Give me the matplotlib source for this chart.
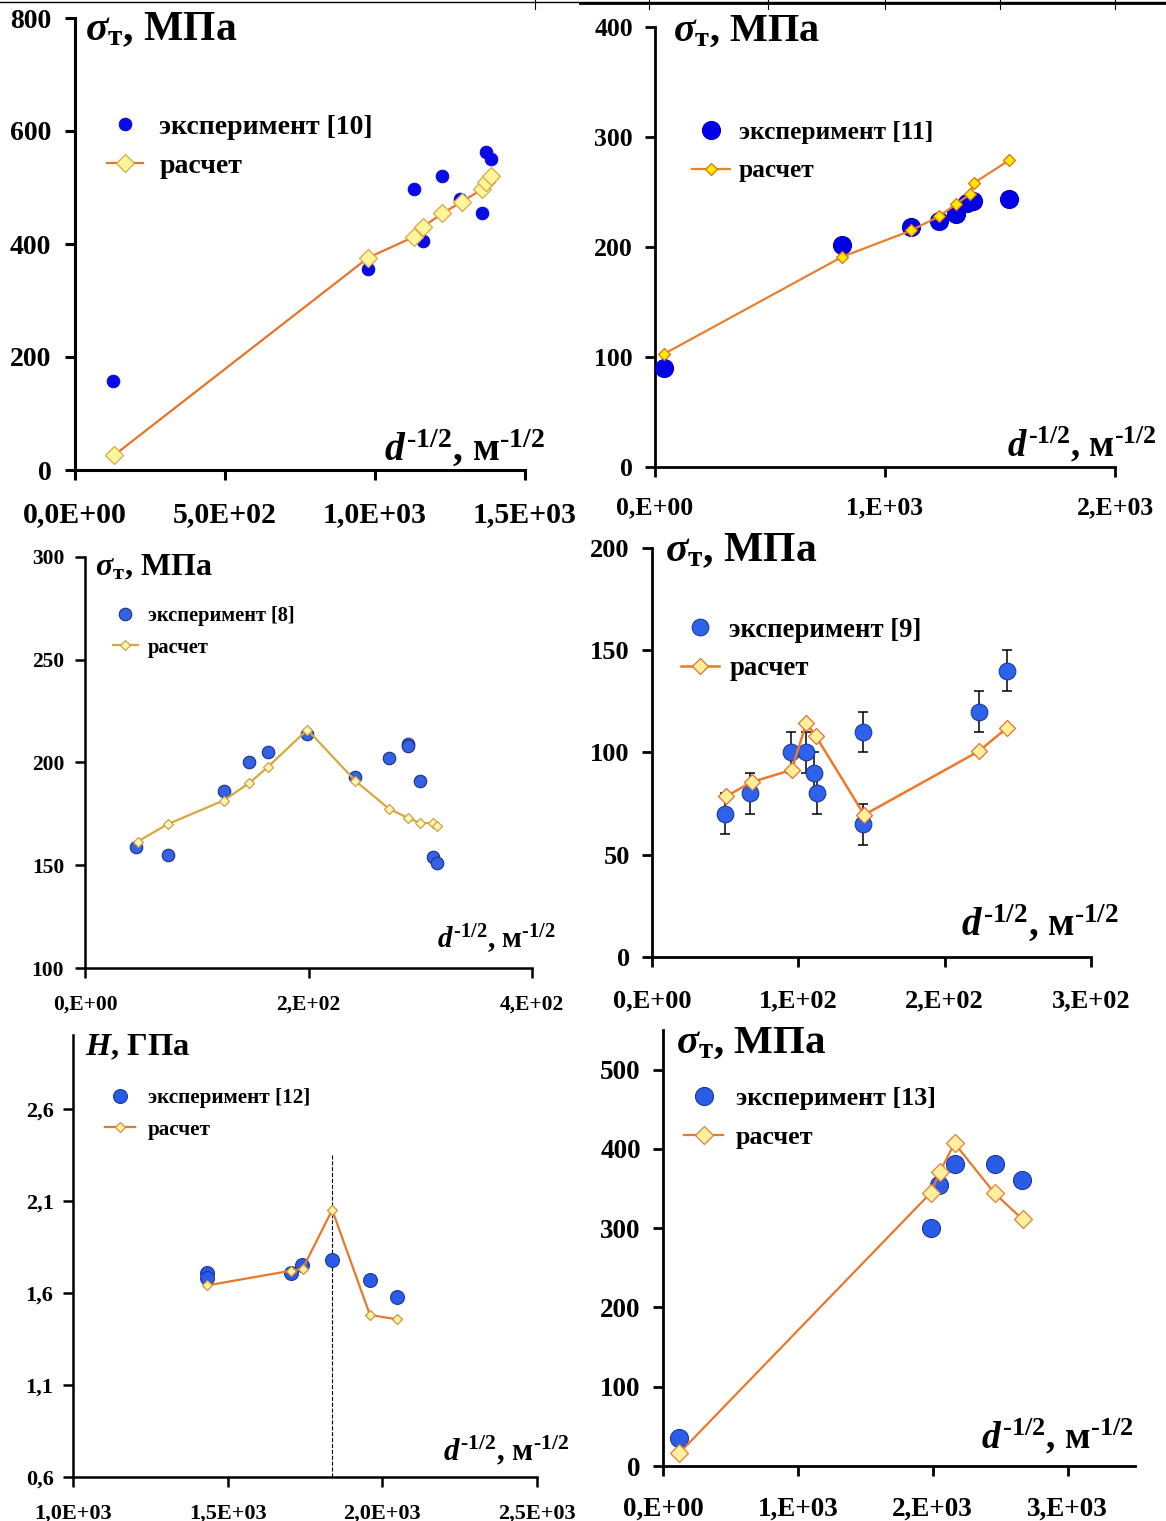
import matplotlib
matplotlib.use("Agg")
import matplotlib.pyplot as plt
from matplotlib.lines import Line2D

plt.rcParams['font.family'] = ['Liberation Serif', 'DejaVu Serif']
plt.rcParams['font.weight'] = 'bold'
plt.rcParams['mathtext.fontset'] = 'custom'
plt.rcParams['mathtext.rm'] = 'Liberation Serif:bold'
plt.rcParams['mathtext.it'] = 'Liberation Serif:italic:bold'
plt.rcParams['mathtext.bf'] = 'Liberation Serif:bold'

W, H = 1166, 1521

# ---- data ----
p1_exp_x = [128, 975, 1131, 1159, 1224, 1282, 1357, 1371, 1386]
p1_exp_y = [157, 356, 498, 406, 520, 479, 454, 562, 551]
p1_calc_x = [130, 978, 1131, 1159, 1224, 1290, 1357, 1371, 1386]
p1_calc_y = [26, 376, 413, 430, 454, 475, 497, 509, 521]
p1_xticks = [0, 500, 1000, 1500]
p1_xlabels = ['0,0E+00', '5,0E+02', '1,0E+03', '1,5E+03']
p1_yticks = [0, 200, 400, 600, 800]

p2_exp_x = [37, 813, 1114, 1236, 1309, 1358, 1382, 1541]
p2_exp_y = [90, 202, 218, 224, 230, 240, 242, 244]
p2_calc_x = [41, 813, 1114, 1236, 1309, 1369, 1385, 1541]
p2_calc_y = [103, 191, 215, 228, 239, 248, 258, 279]
p2_xticks = [0, 1000, 2000]
p2_xlabels = ['0,E+00', '1,E+03', '2,E+03']
p2_yticks = [0, 100, 200, 300, 400]

p3_exp_x = [46, 74, 124, 147, 164, 199, 242, 272, 289, 289, 300, 311, 315]
p3_exp_y = [159, 155, 186, 200, 205, 214, 193, 202, 209, 208, 191, 154, 151]
p3_calc_x = [47, 74, 124, 147, 164, 199, 242, 272, 289, 300, 311, 315]
p3_calc_y = [161.5, 170, 181.5, 190, 198, 216, 191, 177.5, 173, 170.5, 170.5, 169]
p3_xticks = [0, 200, 400]
p3_xlabels = ['0,E+00', '2,E+02', '4,E+02']
p3_yticks = [100, 150, 200, 250, 300]

p4_exp_x = [50, 67, 95, 105, 111, 113, 144.5, 144.5, 223.5, 242.5]
p4_exp_y = [70, 80, 100, 100, 90, 80, 110, 65, 120, 140]
p4_exp_err = [10, 10, 10, 10, 10, 10, 10, 10, 10, 10]
p4_calc_x = [50.5, 68, 95.5, 105.5, 112, 145, 223.5, 242.5]
p4_calc_y = [78.5, 85.5, 91.5, 114.5, 108, 69.5, 100.7, 112]
p4_xticks = [0, 100, 200, 300]
p4_xlabels = ['0,E+00', '1,E+02', '2,E+02', '3,E+02']
p4_yticks = [0, 50, 100, 150, 200]

p5_exp_x = [1433, 1433, 1704, 1740, 1837, 1960, 2046]
p5_exp_y = [1.71, 1.68, 1.71, 1.75, 1.78, 1.67, 1.58]
p5_calc_x = [1433, 1704, 1742, 1838, 1960, 2047]
p5_calc_y = [1.64, 1.72, 1.73, 2.05, 1.48, 1.456]
p5_vline_x = 1837
p5_vline_top = 2.35
p5_xticks = [1000, 1500, 2000, 2500]
p5_xlabels = ['1,0E+03', '1,5E+03', '2,0E+03', '2,5E+03']
p5_yticks = [0.6, 1.1, 1.6, 2.1, 2.6]
p5_ylabels = ['0,6', '1,1', '1,6', '2,1', '2,6']

p6_exp_x = [116, 1988, 2046, 2162, 2459, 2661]
p6_exp_y = [35, 300, 355, 381, 381, 361]
p6_calc_x = [119, 1988, 2052, 2162, 2459, 2667]
p6_calc_y = [16, 345, 371, 407, 344, 311]
p6_xticks = [0, 1000, 2000, 3000]
p6_xlabels = ['0,E+00', '1,E+03', '2,E+03', '3,E+03']
p6_yticks = [0, 100, 200, 300, 400, 500]

sig_label = r'$\sigma_{\rm т}$, МПа'
h_label = r'$H$, ГПа'
d_label = '$d^{\\rm \u20101/2}$, м$^{\\rm \u20101/2}$'


def rect(l, r, t, b):
    return [l / W, 1 - b / H, (r - l) / W, (b - t) / H]


def panel(box, ex, ey, cx, cy, xlim, ylim, xticks, xlabels, yticks, ylabels,
          exp_name, ylab, st, yerr=None):
    ax = fig.add_axes(rect(*box))
    ax.set_xlim(*xlim)
    ax.set_ylim(*ylim)
    for s in ['top', 'right']:
        ax.spines[s].set_visible(False)
    for s in ['left', 'bottom']:
        ax.spines[s].set_linewidth(st['spine'])
    if yerr is not None:
        ax.errorbar(ex, ey, yerr=yerr, fmt='none', ecolor='black', elinewidth=1.1,
                    capsize=3.5, capthick=1.1, zorder=2)
    ax.plot(ex, ey, 'o', ms=st['ms_exp'], color=st['blue'], mec=st['blue_edge'],
            mew=0.8, label=exp_name, zorder=3)
    ax.plot(cx, cy, '-D', color=st['line'], lw=st['lw'], ms=st['ms_calc'],
            mfc=st['dfill'], mec=st['dedge'], mew=0.9, label='расчет', zorder=4)
    ax.set_xticks(xticks)
    ax.set_xticklabels(xlabels)
    ax.set_yticks(yticks)
    ax.set_yticklabels(ylabels)
    ax.tick_params(axis='x', direction='out', length=7, width=st['spine'],
                   labelsize=st.get('xtick', st['tick']), pad=st['xpad'])
    ax.tick_params(axis='y', direction='out', length=7, width=st['spine'],
                   labelsize=st['tick'], pad=st['ypad'])
    ax.text(st['ylab_xy'][0], st['ylab_xy'][1], ylab, transform=ax.transAxes,
            fontsize=st['ylab'], fontweight='bold', va='center', ha='left')
    ax.text(st['xlab_xy'][0], st['xlab_xy'][1], d_label, transform=ax.transAxes,
            fontsize=st['xlab'], fontweight='bold', va='baseline', ha='right')
    ax.legend(loc='upper left', bbox_to_anchor=st['leg_xy'], frameon=False,
              fontsize=st['leg'], borderpad=0, borderaxespad=0,
              handlelength=st['hl'], handletextpad=st['htp'],
              labelspacing=st['lsp'])
    return ax


fig = plt.figure(figsize=(W / 100, H / 100), dpi=100)

# table border remnants at the very top
fig.add_artist(Line2D([0, 1], [1 - 1.5 / H] * 2, color='black', lw=1.0))
fig.add_artist(Line2D([580 / W, 1], [1 - 2.5 / H] * 2, color='black', lw=2.0))
for px in [535, 649, 768, 885, 1000, 1115]:
    fig.add_artist(Line2D([px / W] * 2, [1, 1 - 9 / H], color='black', lw=0.8))

st1 = dict(spine=2.2, ms_exp=9, ms_calc=9, blue='#0a0ae6', blue_edge='#0a0ae6',
           line='#e8742a', lw=1.6, dfill='#fff59a', dedge='#d8a84a', tick=20, xtick=21.5,
           xpad=15, ypad=10, ylab=30, xlab=28.5, leg=20, ylab_xy=(0.022, 0.973),
           xlab_xy=(1.044, 0.022), leg_xy=(0.07, 0.787), hl=1.3, htp=0.6, lsp=0.5)
panel((75, 525, 18, 470), p1_exp_x, p1_exp_y, p1_calc_x, p1_calc_y, (0, 1500), (0, 800),
      p1_xticks, p1_xlabels, p1_yticks, [str(v) for v in p1_yticks],
      'эксперимент [10]', sig_label, st1)

st2 = dict(spine=2.0, ms_exp=13, ms_calc=6.5, blue='#0000e6', blue_edge='#0000c8',
           line='#e8802e', lw=1.6, dfill='#ffea00', dedge='#e07010', tick=18.5,
           xpad=14, ypad=9, ylab=29, xlab=26.5, leg=18.3, ylab_xy=(0.039, 0.99),
           xlab_xy=(1.09, 0.023), leg_xy=(0.08, 0.787), hl=1.5, htp=0.35, lsp=0.62)
panel((655, 1115, 27, 467), p2_exp_x, p2_exp_y, p2_calc_x, p2_calc_y, (0, 2000), (0, 400),
      p2_xticks, p2_xlabels, p2_yticks, [str(v) for v in p2_yticks],
      'эксперимент [11]', sig_label, st2)

st3 = dict(spine=1.8, ms_exp=9, ms_calc=5.5, blue='#3562e2', blue_edge='#1c2f8a',
           line='#d8a838', lw=1.6, dfill='#fff7b0', dedge='#c8a050', tick=15.5,
           xpad=12, ypad=8, ylab=23, xlab=21, leg=14.7, ylab_xy=(0.022, 0.973),
           xlab_xy=(1.054, 0.049), leg_xy=(0.063, 0.88), hl=1.2, htp=0.5, lsp=0.55)
panel((85, 532, 557, 968), p3_exp_x, p3_exp_y, p3_calc_x, p3_calc_y, (0, 400), (100, 300),
      p3_xticks, p3_xlabels, p3_yticks, [str(v) for v in p3_yticks],
      'эксперимент [8]', sig_label, st3)

st4 = dict(spine=2.0, ms_exp=12, ms_calc=8, blue='#2e62ea', blue_edge='#1c3a9a',
           line='#f07828', lw=1.8, dfill='#ffef9a', dedge='#e07030', tick=19,
           xpad=16, ypad=9, ylab=30, xlab=28, leg=19.2, ylab_xy=(0.03, 0.993),
           xlab_xy=(1.064, 0.054), leg_xy=(0.067, 0.83), hl=1.4, htp=0.4, lsp=0.52)
panel((652, 1091, 548, 957), p4_exp_x, p4_exp_y, p4_calc_x, p4_calc_y, (0, 300), (0, 200),
      p4_xticks, p4_xlabels, p4_yticks, [str(v) for v in p4_yticks],
      'эксперимент [9]', sig_label, st4, yerr=p4_exp_err)

st5 = dict(spine=1.8, ms_exp=10, ms_calc=5.5, blue='#2a5ae8', blue_edge='#1c3a9a',
           line='#e8782a', lw=1.6, dfill='#fff3a0', dedge='#d09040', tick=16,
           xpad=12, ypad=7, ylab=23.3, xlab=22.3, leg=15.2, ylab_xy=(0.026, 0.971),
           xlab_xy=(1.069, 0.038), leg_xy=(0.07, 0.88), hl=1.4, htp=0.6, lsp=0.55)
ax5 = panel((73, 537, 1035, 1477), p5_exp_x, p5_exp_y, p5_calc_x, p5_calc_y, (1000, 2500),
            (0.6, 3.0), p5_xticks, p5_xlabels, p5_yticks, p5_ylabels,
            'эксперимент [12]', h_label, st5)
ax5.plot([p5_vline_x, p5_vline_x], [0.6, p5_vline_top], '--', color='black', lw=0.8, zorder=1)

st6 = dict(spine=2.0, ms_exp=13, ms_calc=9, blue='#2a5ce8', blue_edge='#1c3a9a',
           line='#e8782a', lw=1.6, dfill='#ffef9f', dedge='#e08040', tick=19.5,
           xpad=15, ypad=9, ylab=29.5, xlab=27, leg=18.7, ylab_xy=(0.028, 0.97),
           xlab_xy=(0.996, 0.041), leg_xy=(0.045, 0.87), hl=1.5, htp=0.5, lsp=0.6)
panel((663, 1135, 1030, 1466), p6_exp_x, p6_exp_y, p6_calc_x, p6_calc_y, (0, 3500), (0, 550),
      p6_xticks, p6_xlabels, p6_yticks, [str(v) for v in p6_yticks],
      'эксперимент [13]', sig_label, st6)

fig.savefig('out.png', dpi=100)
